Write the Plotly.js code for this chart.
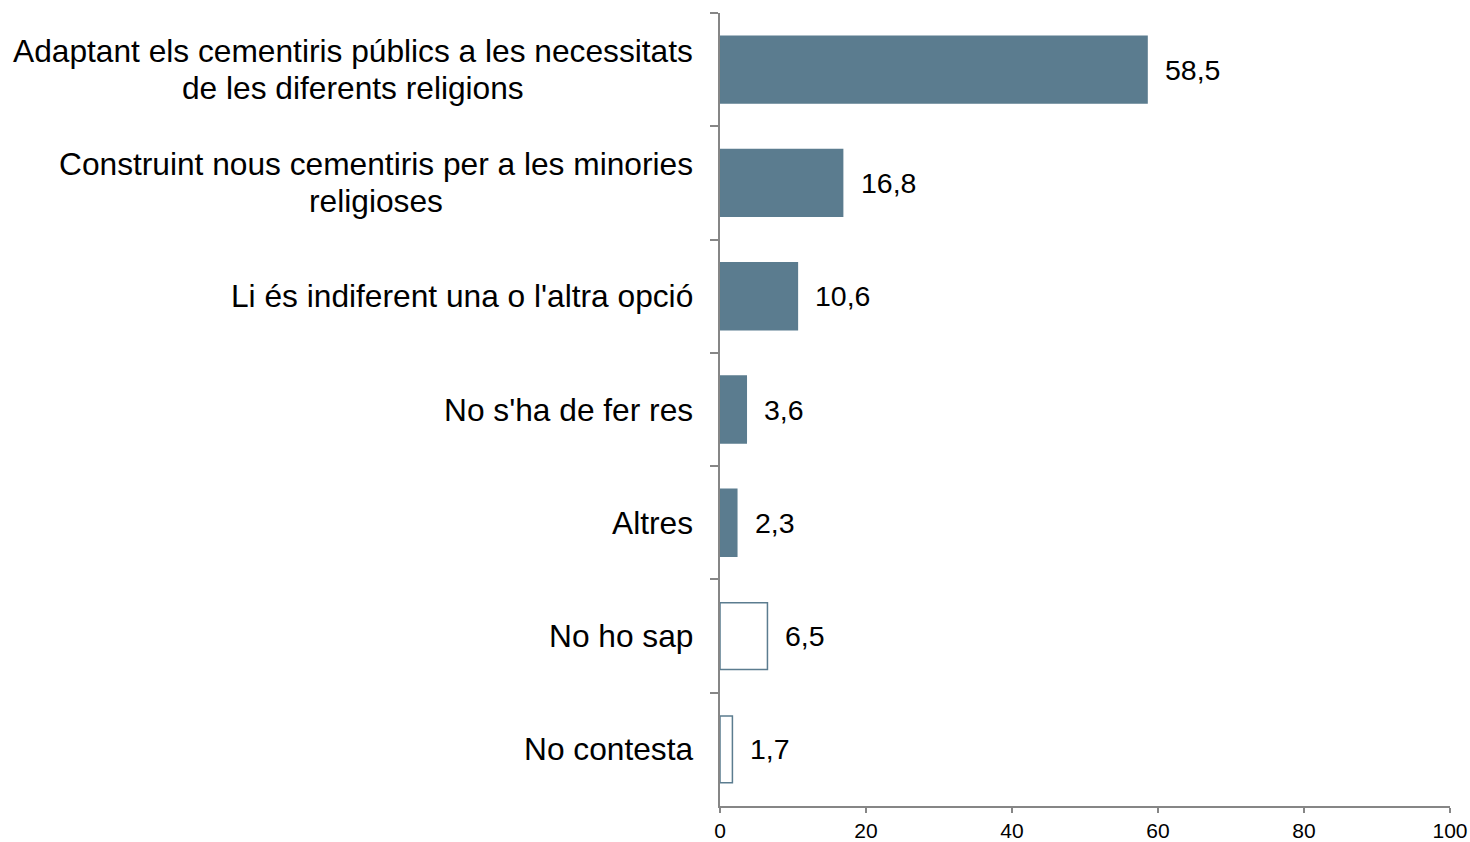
<!DOCTYPE html>
<html>
<head>
<meta charset="utf-8">
<script src="https://cdn.plot.ly/plotly-3.0.1.min.js"></script>
<style>
  html, body { margin: 0; padding: 0; background: #fff; }
  #chart { width: 1470px; height: 842px; }
</style>
</head>
<body>
<div id="chart"></div>
<script>
// Response options (top to bottom); each entry lists the lines of its label
const categories = [
  ["Adaptant els cementiris públics a les necessitats", "de les diferents religions"],
  ["Construint nous cementiris per a les minories", "religioses"],
  ["Li és indiferent una o l'altra opció"],
  ["No s'ha de fer res"],
  ["Altres"],
  ["No ho sap"],
  ["No contesta"]
];
const values = [58.5, 16.8, 10.6, 3.6, 2.3, 6.5, 1.7];
// Substantive answers are filled, non-answers are drawn as outlines
const filled = [true, true, true, true, true, false, false];
const xTicks = [0, 20, 40, 60, 80, 100];

const barColor = "#5b7c8f";
const axisColor = "#868686";
const fontFamily = "Liberation Sans, Arial, sans-serif";
const labelSize = 31.7;
const lineGap = 37;        // distance between the lines of a wrapped label
const labelPad = 27;       // gap between label block and the axis
const fmt = v => v.toFixed(1).replace(".", ",");

const keys = categories.map(lines => lines.join(" "));

// Text width helper, so wrapped labels can be centred under each other
const ctx = document.createElement("canvas").getContext("2d");
ctx.font = labelSize + "px " + fontFamily;
const textWidth = s => ctx.measureText(s).width;

const trace = {
  type: "bar",
  orientation: "h",
  x: values,
  y: keys,
  marker: {
    color: filled.map(f => f ? barColor : "#ffffff"),
    line: { color: barColor, width: 1.5 }
  },
  hoverinfo: "skip"
};

const annotations = [];
categories.forEach((lines, i) => {
  const blockW = Math.max(...lines.map(textWidth));
  lines.forEach((line, j) => {
    const yShift = ((lines.length - 1) / 2 - j) * lineGap;
    annotations.push({
      xref: "paper", yref: "y", x: 0, y: keys[i],
      xanchor: "center", yanchor: "middle",
      xshift: -labelPad - blockW / 2, yshift: yShift,
      showarrow: false, text: line,
      font: { family: fontFamily, size: labelSize, color: "#000" }
    });
  });
  annotations.push({
    xref: "x", yref: "y", x: values[i], y: keys[i],
    xanchor: "left", yanchor: "middle", xshift: 16,
    showarrow: false, text: fmt(values[i]),
    font: { family: fontFamily, size: 28.5, color: "#000" }
  });
});

const layout = {
  width: 1470, height: 842,
  margin: { l: 720, r: 20, t: 13, b: 36 },
  paper_bgcolor: "#fff", plot_bgcolor: "#fff",
  showlegend: false,
  bargap: 0.41,
  font: { family: fontFamily, color: "#000" },
  xaxis: {
    range: [0, 100],
    tickvals: xTicks,
    ticktext: xTicks.map(String),
    ticks: "outside", ticklen: 5, tickwidth: 2, tickcolor: axisColor,
    showline: true, linecolor: axisColor, linewidth: 2,
    showgrid: false, zeroline: false,
    tickfont: { size: 21, color: "#000" }
  },
  yaxis: {
    type: "category",
    categoryorder: "array", categoryarray: keys,
    range: [6.5, -0.5],
    tickson: "boundaries",
    ticks: "outside", ticklen: 8, tickwidth: 2, tickcolor: axisColor,
    showline: true, linecolor: axisColor, linewidth: 2,
    showgrid: false, zeroline: false,
    showticklabels: false
  },
  annotations: annotations
};

Plotly.newPlot("chart", [trace], layout, { displayModeBar: false, staticPlot: true });
</script>
</body>
</html>
